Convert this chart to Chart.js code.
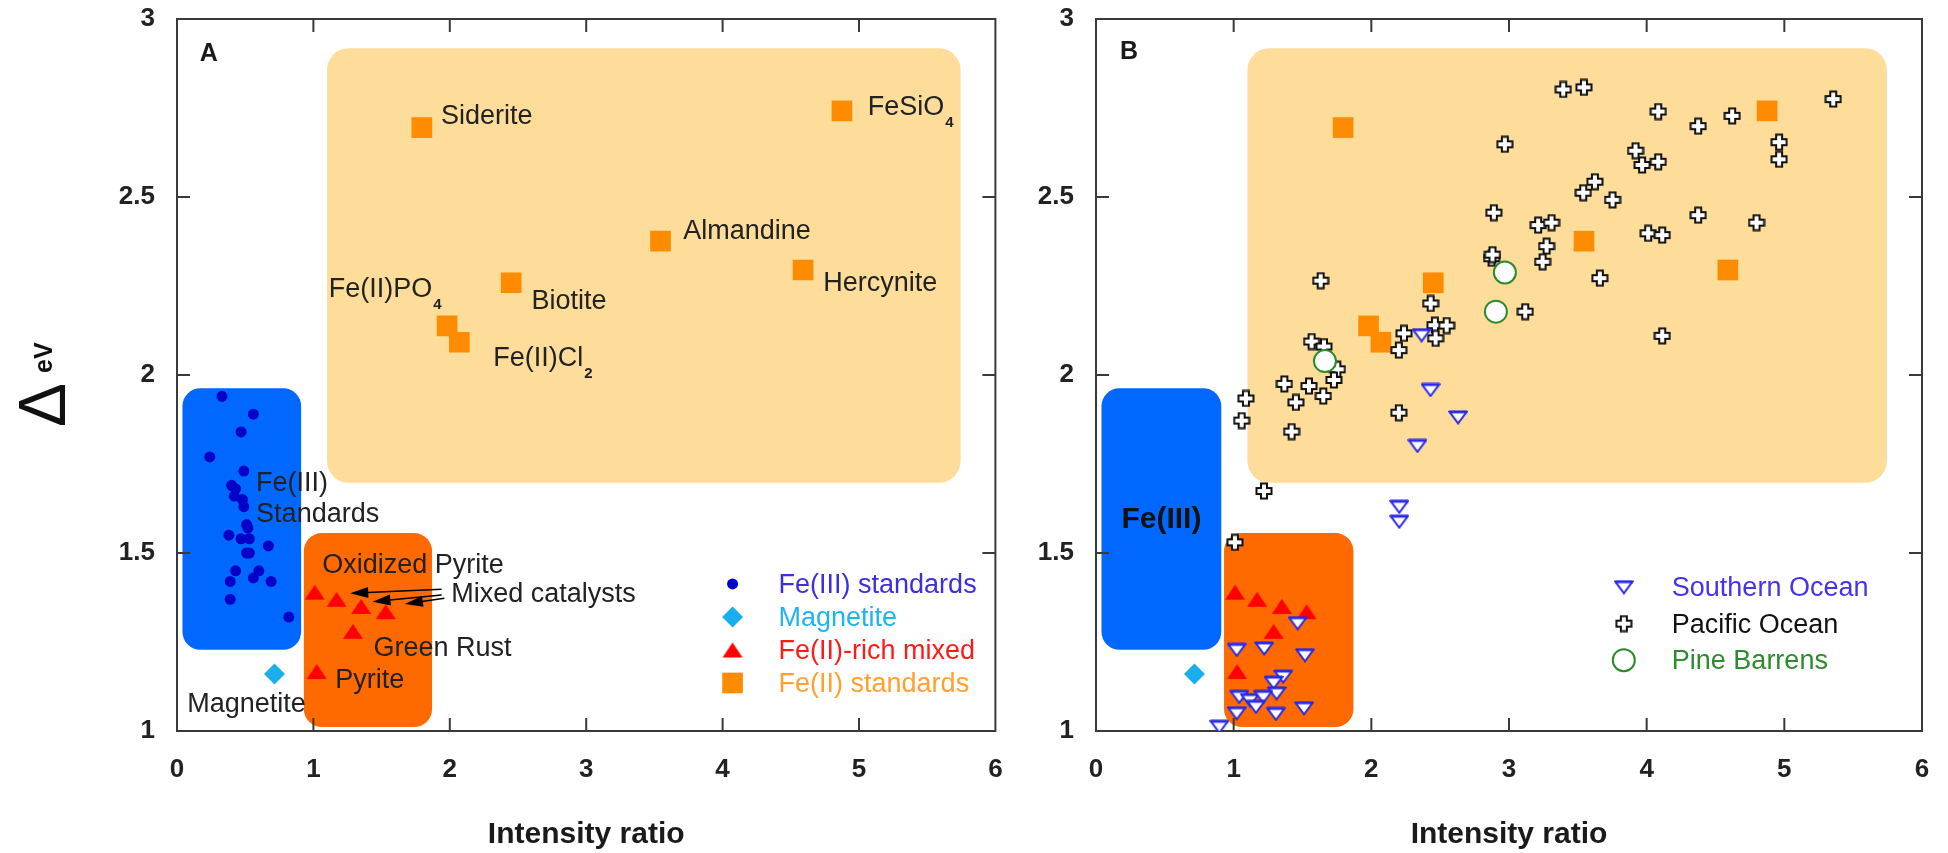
<!DOCTYPE html>
<html>
<head>
<meta charset="utf-8">
<script src="https://cdn.jsdelivr.net/npm/chart.js@4.4.1/dist/chart.umd.min.js"></script>
<style>
  html, body { margin: 0; padding: 0; background: #fff; }
  body { width: 1948px; height: 853px; position: relative; overflow: hidden; }
  canvas { position: absolute; top: 0; }
  #chartA { left: 0; }
  #chartB { left: 1010px; }
</style>
</head>
<body>
<canvas id="chartA" width="1010" height="853"></canvas>
<canvas id="chartB" width="938" height="853"></canvas>
<script>
const FONT = "'Liberation Sans', Arial, Helvetica, sans-serif";

// ---- axis ticks ----
const xTickValues = [0, 1, 2, 3, 4, 5, 6];
const yTickValues = [1, 1.5, 2, 2.5, 3];

// ---- series (intensity ratio, Δ eV) ----
const fe3Standards = [
  [0.33, 1.94], [0.56, 1.89], [0.47, 1.84], [0.24, 1.77], [0.49, 1.73],
  [0.40, 1.69], [0.43, 1.68], [0.42, 1.66], [0.48, 1.65], [0.49, 1.63],
  [0.51, 1.58], [0.52, 1.57], [0.38, 1.55], [0.47, 1.54], [0.53, 1.54],
  [0.67, 1.52], [0.51, 1.50], [0.53, 1.50], [0.43, 1.45], [0.60, 1.45],
  [0.56, 1.43], [0.39, 1.42], [0.69, 1.42], [0.39, 1.37], [0.82, 1.32],
];
const magnetite = [[0.715, 1.16]];
const fe2Rich = [
  [1.01, 1.39], [1.17, 1.37], [1.35, 1.35], [1.53, 1.335], [1.29, 1.28], [1.025, 1.167],
];
const fe2Standards = [
  [1.795, 2.695], [1.98, 2.138], [2.07, 2.092], [2.45, 2.259],
  [3.545, 2.376], [4.59, 2.295], [4.875, 2.742],
];
const southernOcean = [
  [2.365, 2.112], [2.43, 1.958], [2.63, 1.881], [2.335, 1.801], [2.203, 1.63], [2.203, 1.588],
  [1.465, 1.303], [1.022, 1.228], [1.222, 1.232], [1.518, 1.213], [1.36, 1.153], [1.29, 1.136],
  [1.312, 1.106], [1.041, 1.096], [1.118, 1.087], [1.215, 1.096], [1.162, 1.068], [1.022, 1.05],
  [1.307, 1.048], [1.511, 1.064], [0.896, 1.012],
];
const pacificOcean = [
  [2.97, 2.648], [2.89, 2.456], [3.212, 2.421], [3.273, 2.362], [3.244, 2.318], [2.873, 2.328],
  [2.88, 2.338], [3.118, 2.178], [1.632, 2.265], [2.431, 2.201], [2.462, 2.14], [2.547, 2.139],
  [2.467, 2.103], [2.237, 2.117], [2.2, 2.07], [1.566, 2.094], [1.656, 2.08], [1.753, 2.016],
  [1.728, 1.986], [1.368, 1.975], [1.547, 1.969], [1.651, 1.941], [1.452, 1.923], [1.089, 1.934],
  [1.058, 1.872], [1.421, 1.841], [2.2, 1.894], [1.22, 1.674], [1.009, 1.53], [3.394, 2.802],
  [3.544, 2.808], [4.084, 2.74], [4.374, 2.699], [4.621, 2.728], [5.355, 2.775], [4.962, 2.654],
  [4.962, 2.606], [3.919, 2.63], [3.967, 2.59], [4.084, 2.599], [3.624, 2.543], [3.539, 2.512],
  [3.752, 2.492], [3.309, 2.428], [4.374, 2.449], [4.798, 2.428], [4.011, 2.398], [4.113, 2.393],
  [3.66, 2.272], [4.113, 2.11],
];
const pineBarrens = [[2.97, 2.288], [2.905, 2.178], [1.663, 2.039]];

// shaded regions: [xFrom, xTo, yFrom, yTo, kind]
const regions = [
  [1.10, 5.745, 1.697, 2.918, "fe2"],
  [0.04, 0.91, 1.228, 1.963, "fe3"],
  [0.93, 1.87, 1.011, 1.556, "mixed"],
];

// text annotations in panel A: [text, x, y, subscript]
const labelsA = [
  ["Siderite", 1.935, 2.73],
  ["FeSiO", 5.064, 2.756, "4"],
  ["Almandine", 3.711, 2.407],
  ["Hercynite", 4.737, 2.262],
  ["Biotite", 2.599, 2.211],
  ["Fe(II)PO", 1.113, 2.244, "4"],
  ["Fe(II)Cl", 2.318, 2.051, "2"],
  ["Fe(III)", 0.58, 1.70],
  ["Standards", 0.58, 1.613],
  ["Oxidized Pyrite", 1.064, 1.468],
  ["Mixed catalysts", 2.01, 1.387],
  ["Green Rust", 1.44, 1.237],
  ["Pyrite", 1.161, 1.146],
  ["Magnetite", 0.075, 1.078],
];
// arrows from "Mixed catalysts": [tailX, tailY, tipX, tipY]
const catalystArrows = [
  [1.94, 1.398, 1.27, 1.387],
  [1.94, 1.382, 1.433, 1.363],
  [1.96, 1.373, 1.671, 1.357],
];

// ---- marker images ----
function triangleUp() {
  const c = document.createElement("canvas");
  c.width = 22; c.height = 17;
  const g = c.getContext("2d");
  g.fillStyle = "#ff0000";
  g.beginPath(); g.moveTo(1, 16); g.lineTo(11, 1); g.lineTo(21, 16); g.closePath(); g.fill();
  return c;
}
function triangleDown() {
  const c = document.createElement("canvas");
  c.width = 20; c.height = 15;
  const g = c.getContext("2d");
  g.fillStyle = "#fff";
  g.strokeStyle = "#2a2ae6";
  g.lineWidth = 2;
  g.beginPath(); g.moveTo(1.5, 2); g.lineTo(18.5, 2); g.lineTo(10, 13.5); g.closePath();
  g.fill(); g.stroke();
  g.lineWidth = 3;
  g.beginPath(); g.moveTo(1, 2); g.lineTo(19, 2); g.stroke();
  return c;
}
function plusOutline() {
  const c = document.createElement("canvas");
  c.width = 18; c.height = 18;
  const g = c.getContext("2d");
  const m = 9, a = 3, e = 7.5;
  const pts = [[-a, -e], [a, -e], [a, -a], [e, -a], [e, a], [a, a], [a, e], [-a, e], [-a, a], [-e, a], [-e, -a], [-a, -a]];
  g.beginPath();
  pts.forEach((p, i) => (i ? g.lineTo(m + p[0], m + p[1]) : g.moveTo(m + p[0], m + p[1])));
  g.closePath();
  g.fillStyle = "#fff"; g.fill();
  g.strokeStyle = "#111"; g.lineWidth = 2; g.stroke();
  return c;
}
const redTri = triangleUp();
const blueTri = triangleDown();
const plusMark = plusOutline();

const toPts = (arr) => arr.map((p) => ({ x: p[0], y: p[1] }));

const dsFe3 = {
  data: toPts(fe3Standards), pointStyle: "circle", pointRadius: 5.5, borderWidth: 0,
  backgroundColor: "#0000c8", legendText: "Fe(III) standards", legendColor: "#3b2fe0",
};
const dsMag = () => ({
  data: toPts(magnetite), pointStyle: "rectRot", pointRadius: 10.5, borderWidth: 0,
  backgroundColor: "#1aaeee", legendText: "Magnetite", legendColor: "#1eb4f0",
});
const dsRich = () => ({
  data: toPts(fe2Rich), pointStyle: redTri, pointRadius: 10, borderWidth: 0,
  backgroundColor: "#ff0000", legendText: "Fe(II)-rich mixed", legendColor: "#ff1a1a",
});
const dsFe2 = () => ({
  data: toPts(fe2Standards), pointStyle: "rect", pointRadius: 14.6, borderWidth: 0,
  backgroundColor: "#ff8c00", legendText: "Fe(II) standards", legendColor: "#ffa030",
});

const regionStyle = {
  fe2: { color: "#fedc99", radius: 22 },
  fe3: { color: "#0068ff", radius: 18 },
  mixed: { color: "#ff6a00", radius: 18 },
};

function drawArrow(ctx, x1, y1, x2, y2) {
  const ang = Math.atan2(y2 - y1, x2 - x1);
  const c = Math.cos(ang), s = Math.sin(ang);
  ctx.beginPath();
  ctx.moveTo(x1, y1);
  ctx.lineTo(x2 - c * 12, y2 - s * 12);
  ctx.stroke();
  ctx.beginPath();
  ctx.moveTo(x2, y2);
  ctx.lineTo(x2 - 18 * c + 5.5 * s, y2 - 18 * s - 5.5 * c);
  ctx.lineTo(x2 - 18 * c - 5.5 * s, y2 - 18 * s + 5.5 * c);
  ctx.closePath();
  ctx.fill();
}

function drawMarker(ctx, ds, x, y) {
  ctx.save();
  ctx.fillStyle = ds.backgroundColor;
  ctx.strokeStyle = ds.borderColor || ds.backgroundColor;
  ctx.lineWidth = ds.borderWidth || 0;
  Chart.helpers.drawPoint(ctx, {
    pointStyle: ds.pointStyle, radius: ds.pointRadius, rotation: 0, borderWidth: ds.borderWidth || 0,
  }, x, y);
  ctx.restore();
}

const panelDecor = {
  id: "panelDecor",
  beforeDatasetsDraw(chart, args, opts) {
    const { ctx, chartArea: area, scales: { x, y } } = chart;
    ctx.save();
    regions.forEach(([xa, xb, ya, yb, kind]) => {
      const st = regionStyle[kind];
      const px0 = x.getPixelForValue(xa), px1 = x.getPixelForValue(xb);
      const py0 = y.getPixelForValue(yb), py1 = y.getPixelForValue(ya);
      ctx.fillStyle = st.color;
      ctx.beginPath();
      ctx.roundRect(px0, py0, px1 - px0, py1 - py0, st.radius);
      ctx.fill();
    });
    // frame with inward ticks
    ctx.strokeStyle = "#3a3a3a";
    ctx.lineWidth = 2;
    ctx.strokeRect(area.left, area.top, area.right - area.left, area.bottom - area.top);
    const tl = 13;
    ctx.beginPath();
    xTickValues.slice(1, -1).forEach((v) => {
      const px = x.getPixelForValue(v);
      ctx.moveTo(px, area.bottom); ctx.lineTo(px, area.bottom - tl);
      ctx.moveTo(px, area.top); ctx.lineTo(px, area.top + tl);
    });
    yTickValues.slice(1, -1).forEach((v) => {
      const py = y.getPixelForValue(v);
      ctx.moveTo(area.left, py); ctx.lineTo(area.left + tl, py);
      ctx.moveTo(area.right, py); ctx.lineTo(area.right - tl, py);
    });
    ctx.stroke();
    ctx.restore();
  },
  afterDatasetsDraw(chart, args, opts) {
    const { ctx, chartArea: area, scales: { x, y } } = chart;
    ctx.save();
    ctx.textAlign = "left";
    ctx.textBaseline = "alphabetic";

    // panel letter
    ctx.fillStyle = "#1a1a1a";
    ctx.font = `bold 25px ${FONT}`;
    ctx.fillText(opts.tag[0], x.getPixelForValue(opts.tag[1]), y.getPixelForValue(opts.tag[2]) + 9);

    // point labels
    (opts.labels || []).forEach(([text, lx, ly, sub]) => {
      const px = x.getPixelForValue(lx), base = y.getPixelForValue(ly) + 9;
      ctx.font = `27px ${FONT}`;
      ctx.fillStyle = "#222";
      ctx.fillText(text, px, base);
      if (sub) {
        const w = ctx.measureText(text).width;
        ctx.font = `bold 15px ${FONT}`;
        ctx.fillText(sub, px + w + 1, base + 12);
      }
    });

    // arrows
    ctx.strokeStyle = "#000";
    ctx.fillStyle = "#000";
    ctx.lineWidth = 1.5;
    (opts.arrows || []).forEach(([ax, ay, bx, by]) => {
      drawArrow(ctx, x.getPixelForValue(ax), y.getPixelForValue(ay), x.getPixelForValue(bx), y.getPixelForValue(by));
    });

    // centred region label (panel B)
    if (opts.regionLabel) {
      const [text, lx, ly] = opts.regionLabel;
      ctx.font = `bold 30px ${FONT}`;
      ctx.fillStyle = "#111";
      ctx.textAlign = "center";
      ctx.fillText(text, x.getPixelForValue(lx), y.getPixelForValue(ly) + 11);
      ctx.textAlign = "left";
    }

    // legend inside the plot
    const lg = opts.legend;
    const items = chart.data.datasets.filter((d) => d.showInLegend);
    items.forEach((ds, i) => {
      const mx = x.getPixelForValue(lg.x);
      const my = y.getPixelForValue(lg.y) + i * lg.gap;
      drawMarker(ctx, ds, mx, my);
      ctx.font = `27px ${FONT}`;
      ctx.fillStyle = ds.legendColor;
      ctx.fillText(ds.legendText, mx + lg.textOffset, my + 9);
    });

    // y axis title: Δ with superscript eV
    if (opts.yTitle) {
      ctx.translate(area.left - 112, (area.top + area.bottom) / 2 + 52);
      ctx.rotate(-Math.PI / 2);
      ctx.fillStyle = "#111";
      ctx.font = `66px ${FONT}`;
      ctx.fillText("\u0394", 0, 0);
      ctx.font = `bold 25px ${FONT}`;
      ctx.fillText("eV", 54, -13);
    }
    ctx.restore();
  },
};

function makePanel(id, datasets, decor, yWidth, rightPad) {
  return new Chart(document.getElementById(id), {
    type: "scatter",
    data: { datasets },
    options: {
      responsive: false,
      animation: false,
      devicePixelRatio: 1,
      events: [],
      layout: { padding: { top: 19, right: rightPad, left: 0, bottom: 0 } },
      elements: { point: { hoverRadius: 0 } },
      scales: {
        x: {
          type: "linear", min: 0, max: 6,
          afterBuildTicks: (s) => { s.ticks = xTickValues.map((v) => ({ value: v })); },
          afterFit: (s) => { s.height = 122; s.paddingLeft = 0; s.paddingRight = 0; },
          ticks: { font: { family: FONT, size: 26, weight: "bold" }, color: "#222", padding: 23, maxRotation: 0 },
          grid: { display: false, drawTicks: false },
          border: { display: false },
          title: {
            display: true, text: "Intensity ratio", color: "#1a1a1a",
            font: { family: FONT, size: 30, weight: "bold" }, padding: { top: 0, bottom: 0 },
          },
        },
        y: {
          type: "linear", min: 1, max: 3,
          afterBuildTicks: (s) => { s.ticks = yTickValues.map((v) => ({ value: v })); },
          afterFit: (s) => { s.width = yWidth; s.paddingTop = 0; s.paddingBottom = 0; },
          ticks: {
            font: { family: FONT, size: 26, weight: "bold" }, color: "#222", padding: 22,
            callback: (v) => String(v),
          },
          grid: { display: false, drawTicks: false },
          border: { display: false },
        },
      },
      plugins: {
        legend: { display: false },
        tooltip: { enabled: false },
        panelDecor: decor,
      },
    },
    plugins: [panelDecor],
  });
}

// Panel A: reference minerals
makePanel("chartA", [
  Object.assign(dsFe3, { showInLegend: true, order: 4 }),
  Object.assign(dsMag(), { showInLegend: true, order: 3 }),
  Object.assign(dsRich(), { showInLegend: true, order: 2 }),
  Object.assign(dsFe2(), { showInLegend: true, order: 1 }),
], {
  tag: ["A", 0.167, 2.907],
  labels: labelsA,
  arrows: catalystArrows,
  legend: { x: 4.073, y: 1.413, gap: 33, textOffset: 46 },
  yTitle: true,
}, 177, 8);

// Panel B: natural samples
makePanel("chartB", [
  Object.assign(dsRich(), { order: 6 }),
  Object.assign(dsMag(), { order: 5 }),
  Object.assign(dsFe2(), { order: 4 }),
  {
    data: toPts(southernOcean), pointStyle: blueTri, pointRadius: 9, borderWidth: 0,
    backgroundColor: "#fff", showInLegend: true, order: 2,
    legendText: "Southern Ocean", legendColor: "#4433ee",
  },
  {
    data: toPts(pacificOcean), pointStyle: plusMark, pointRadius: 9, borderWidth: 0,
    backgroundColor: "#fff", showInLegend: true, order: 3,
    legendText: "Pacific Ocean", legendColor: "#111",
  },
  {
    data: toPts(pineBarrens), pointStyle: "circle", pointRadius: 11, borderWidth: 2,
    backgroundColor: "#fff", borderColor: "#2a8a2a", showInLegend: true, order: 1,
    legendText: "Pine Barrens", legendColor: "#2e8b2e",
  },
], {
  tag: ["B", 0.174, 2.913],
  regionLabel: ["Fe(III)", 0.475, 1.602],
  legend: { x: 3.834, y: 1.404, gap: 36.5, textOffset: 48 },
  yTitle: false,
}, 86, 26);
</script>
</body>
</html>
